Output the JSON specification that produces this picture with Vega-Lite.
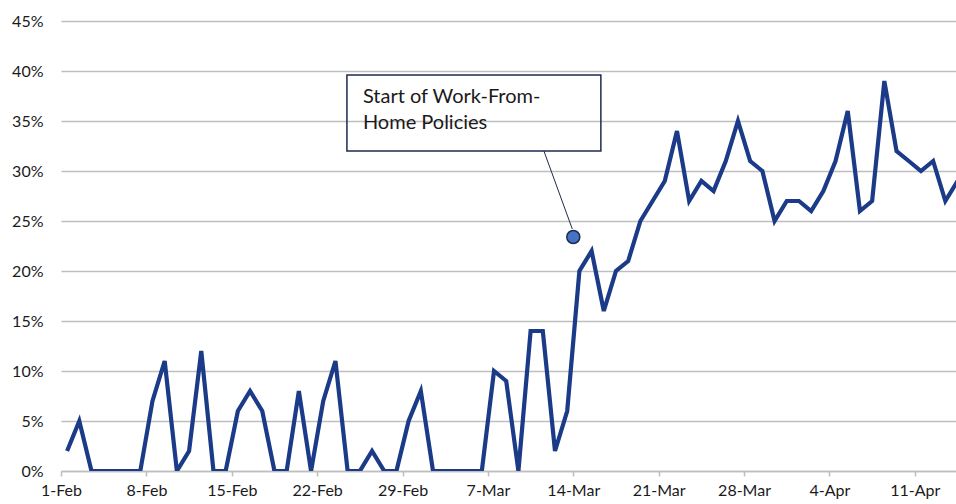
{
  "$schema": "https://vega.github.io/schema/vega-lite/v6.json",
  "width": 895,
  "height": 450,
  "autosize": {"type": "none"},
  "padding": {"left": 61, "top": 21, "right": 0, "bottom": 33},
  "config": {
    "view": {"stroke": null},
    "font": "Lato",
    "axis": {"labelFont": "Lato", "labelFontSize": 16, "labelColor": "#1a1a1a", "title": null}
  },
  "datasets": {
    "series": [
      {"date": "2020-02-01", "share": 0.02}, {"date": "2020-02-02", "share": 0.05}, {"date": "2020-02-03", "share": 0},
      {"date": "2020-02-04", "share": 0}, {"date": "2020-02-05", "share": 0}, {"date": "2020-02-06", "share": 0},
      {"date": "2020-02-07", "share": 0}, {"date": "2020-02-08", "share": 0.07}, {"date": "2020-02-09", "share": 0.11},
      {"date": "2020-02-10", "share": 0}, {"date": "2020-02-11", "share": 0.02}, {"date": "2020-02-12", "share": 0.12},
      {"date": "2020-02-13", "share": 0}, {"date": "2020-02-14", "share": 0}, {"date": "2020-02-15", "share": 0.06},
      {"date": "2020-02-16", "share": 0.08}, {"date": "2020-02-17", "share": 0.06}, {"date": "2020-02-18", "share": 0},
      {"date": "2020-02-19", "share": 0}, {"date": "2020-02-20", "share": 0.08}, {"date": "2020-02-21", "share": 0},
      {"date": "2020-02-22", "share": 0.07}, {"date": "2020-02-23", "share": 0.11}, {"date": "2020-02-24", "share": 0},
      {"date": "2020-02-25", "share": 0}, {"date": "2020-02-26", "share": 0.02}, {"date": "2020-02-27", "share": 0},
      {"date": "2020-02-28", "share": 0}, {"date": "2020-02-29", "share": 0.05}, {"date": "2020-03-01", "share": 0.08},
      {"date": "2020-03-02", "share": 0}, {"date": "2020-03-03", "share": 0}, {"date": "2020-03-04", "share": 0},
      {"date": "2020-03-05", "share": 0}, {"date": "2020-03-06", "share": 0}, {"date": "2020-03-07", "share": 0.10},
      {"date": "2020-03-08", "share": 0.09}, {"date": "2020-03-09", "share": 0}, {"date": "2020-03-10", "share": 0.14},
      {"date": "2020-03-11", "share": 0.14}, {"date": "2020-03-12", "share": 0.02}, {"date": "2020-03-13", "share": 0.06},
      {"date": "2020-03-14", "share": 0.20}, {"date": "2020-03-15", "share": 0.22}, {"date": "2020-03-16", "share": 0.16},
      {"date": "2020-03-17", "share": 0.20}, {"date": "2020-03-18", "share": 0.21}, {"date": "2020-03-19", "share": 0.25},
      {"date": "2020-03-20", "share": 0.27}, {"date": "2020-03-21", "share": 0.29}, {"date": "2020-03-22", "share": 0.34},
      {"date": "2020-03-23", "share": 0.27}, {"date": "2020-03-24", "share": 0.29}, {"date": "2020-03-25", "share": 0.28},
      {"date": "2020-03-26", "share": 0.31}, {"date": "2020-03-27", "share": 0.35}, {"date": "2020-03-28", "share": 0.31},
      {"date": "2020-03-29", "share": 0.30}, {"date": "2020-03-30", "share": 0.25}, {"date": "2020-03-31", "share": 0.27},
      {"date": "2020-04-01", "share": 0.27}, {"date": "2020-04-02", "share": 0.26}, {"date": "2020-04-03", "share": 0.28},
      {"date": "2020-04-04", "share": 0.31}, {"date": "2020-04-05", "share": 0.36}, {"date": "2020-04-06", "share": 0.26},
      {"date": "2020-04-07", "share": 0.27}, {"date": "2020-04-08", "share": 0.39}, {"date": "2020-04-09", "share": 0.32},
      {"date": "2020-04-10", "share": 0.31}, {"date": "2020-04-11", "share": 0.30}, {"date": "2020-04-12", "share": 0.31},
      {"date": "2020-04-13", "share": 0.27}, {"date": "2020-04-14", "share": 0.29}
    ],
    "box": [{"x": "2020-02-24T10:35:00Z", "x2": "2020-03-16T06:15:00Z", "y": 0.396, "y2": 0.32}],
    "label": [
      {"x": "2020-02-25T18:00:00Z", "y": 0.3683, "text": "Start of Work-From-"},
      {"x": "2020-02-25T18:00:00Z", "y": 0.3417, "text": "Home Policies"}
    ],
    "connector": [{"x": "2020-03-11T14:10:00Z", "x2": "2020-03-13T22:00:00Z", "y": 0.32, "y2": 0.242}],
    "marker": [{"x": "2020-03-14T00:00:00Z", "y": 0.234}]
  },
  "layer": [
    {
      "data": {"name": "series"},
      "mark": {"type": "line", "color": "#1B3A87", "strokeWidth": 4.2, "clip": true, "strokeJoin": "miter"},
      "encoding": {
        "x": {
          "field": "date", "type": "temporal", "timeUnit": "utcyearmonthdate", "bandPosition": 0.5,
          "scale": {"type": "utc", "domain": [{"year": 2020, "month": 2, "date": 1, "utc": true}, {"year": 2020, "month": 4, "date": 14, "hours": 9, "utc": true}]},
          "axis": {
            "values": [
              {"year": 2020, "month": 2, "date": 1, "utc": true}, {"year": 2020, "month": 2, "date": 8, "utc": true},
              {"year": 2020, "month": 2, "date": 15, "utc": true}, {"year": 2020, "month": 2, "date": 22, "utc": true},
              {"year": 2020, "month": 2, "date": 29, "utc": true}, {"year": 2020, "month": 3, "date": 7, "utc": true},
              {"year": 2020, "month": 3, "date": 14, "utc": true}, {"year": 2020, "month": 3, "date": 21, "utc": true},
              {"year": 2020, "month": 3, "date": 28, "utc": true}, {"year": 2020, "month": 4, "date": 4, "utc": true},
              {"year": 2020, "month": 4, "date": 11, "utc": true}
            ],
            "labelExpr": "utcFormat(datum.value, '%-d-%b')", "grid": false,
            "domainColor": "#BEBEBE", "domainWidth": 1.5, "tickColor": "#BEBEBE", "tickWidth": 1.5, "tickSize": 5,
            "labelPadding": 6, "labelAngle": 0, "labelFlush": false, "labelOverlap": false
          }
        },
        "y": {
          "field": "share", "type": "quantitative",
          "scale": {"domain": [0, 0.45], "nice": false},
          "axis": {
            "values": [0, 0.05, 0.1, 0.15, 0.2, 0.25, 0.3, 0.35, 0.4, 0.45],
            "format": ".0%", "domain": false, "ticks": false, "labelPadding": 18,
            "gridColor": "#BEBEBE", "gridWidth": 1.5
          }
        }
      }
    },
    {
      "data": {"name": "box"},
      "mark": {"type": "rect", "fill": null, "fillOpacity": 0, "stroke": "#1F2A4F", "strokeWidth": 1.5},
      "encoding": {
        "x": {"field": "x", "type": "temporal"},
        "x2": {"field": "x2"},
        "y": {"field": "y", "type": "quantitative"},
        "y2": {"field": "y2"}
      }
    },
    {
      "data": {"name": "label"},
      "mark": {"type": "text", "align": "left", "baseline": "alphabetic", "font": "Lato", "fontSize": 20, "color": "#1a1a1a"},
      "encoding": {
        "x": {"field": "x", "type": "temporal"},
        "y": {"field": "y", "type": "quantitative"},
        "text": {"field": "text"}
      }
    },
    {
      "data": {"name": "connector"},
      "mark": {"type": "rule", "color": "#1F2A4F", "strokeWidth": 1},
      "encoding": {
        "x": {"field": "x", "type": "temporal"},
        "x2": {"field": "x2"},
        "y": {"field": "y", "type": "quantitative"},
        "y2": {"field": "y2"}
      }
    },
    {
      "data": {"name": "marker"},
      "mark": {"type": "point", "filled": true, "fill": "#4472C4", "stroke": "#1F2A4F", "strokeWidth": 1.5, "size": 170, "opacity": 1},
      "encoding": {
        "x": {"field": "x", "type": "temporal"},
        "y": {"field": "y", "type": "quantitative"}
      }
    }
  ]
}
